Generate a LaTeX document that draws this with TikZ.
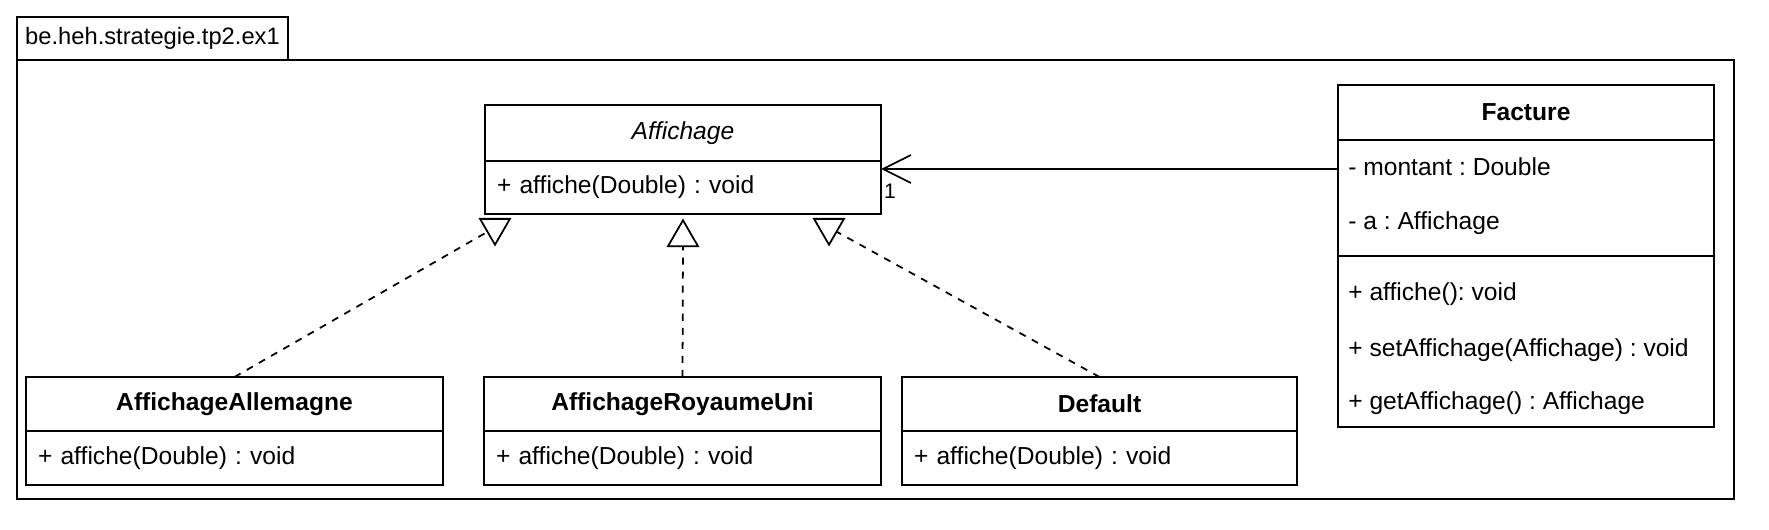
\documentclass[tikz,border=0pt]{standalone}
\usepackage{fontspec}
\setmainfont{Liberation Sans}
\frenchspacing
\usetikzlibrary{arrows.meta,shapes.geometric}

\begin{document}
\begin{tikzpicture}[
        section/.style={draw, line width=1.3pt, outer sep=0pt, anchor=north west, minimum width=#1},
        classhead/.style={section=#1, minimum height=1.08cm, font=\fontsize{14}{17}\selectfont\bfseries},
        classbody/.style={draw, line width=1.3pt, outer sep=0pt, anchor=north west, text width=#1, inner xsep=0.24cm, minimum height=1.08cm, align=left, font=\fontsize{14}{17}\selectfont},
        member/.style={anchor=base west, inner sep=0pt, font=\fontsize{14}{17}\selectfont},
        opentri/.style={draw, line width=1pt, fill=white, regular polygon, regular polygon sides=3, minimum size=0.69cm, inner sep=0pt},
        realize/.style={line width=1pt, dash pattern=on 4pt off 4pt},
        assoc/.style={line width=1pt, -{Straight Barb[length=0.56cm, width=0.56cm, line width=1pt]}}
    ]
                % Background
                \path[use as bounding box, fill=white] (0,0) rectangle (35.38,10.58);

                % Package
                \node[draw, line width=1pt, outer sep=0pt, anchor=north west, minimum width=5.42cm, minimum height=0.86cm, font=\fontsize{13.5}{16}\selectfont] (pkgTab) at (0.34,10.24) {be.heh.strategie.tp2.ex1};
                \node[draw, line width=1pt, outer sep=0pt, anchor=north west, minimum width=34.34cm, minimum height=8.78cm] (pkgBody) at (pkgTab.south west) {};

                % Affichage (abstract)
                \node[classhead=7.92cm, minimum height=1.12cm, font=\fontsize{14}{17}\selectfont\itshape] (affichage) at (9.70,8.48) {Affichage};
                \node[classbody=7.44cm, minimum height=1.06cm] (affichageOps) at (affichage.south west) {+ affiche(Double) : void};

                % Implementations
                \node[classhead=8.34cm] (allemagne) at (0.52,3.04) {AffichageAllemagne};
                \node[classbody=7.86cm] (allemagneOps) at (allemagne.south west) {+ affiche(Double) : void};

                \node[classhead=7.94cm] (royaumeUni) at (9.68,3.04) {AffichageRoyaumeUni};
                \node[classbody=7.46cm] (royaumeUniOps) at (royaumeUni.south west) {+ affiche(Double) : void};

                \node[classhead=7.90cm] (default) at (18.04,3.04) {Default};
                \node[classbody=7.42cm] (defaultOps) at (default.south west) {+ affiche(Double) : void};

                % Facture
                \node[classhead=7.52cm, minimum height=1.10cm] (facture) at (26.76,8.88) {Facture};
                \node[section=7.52cm, minimum height=2.32cm] (factureAttr) at (facture.south west) {};
                \node[section=7.52cm, minimum height=3.42cm] (factureOps) at (factureAttr.south west) {};
                \node[member] (fMontant) at (26.96,7.08) {- montant : Double};
                \node[member] (fA) at (26.96,6.00) {- a : Affichage};
                \node[member] (fAffiche) at (26.96,4.58) {+ affiche(): void};
                \node[member] (fSet) at (26.96,3.46) {+ setAffichage(Affichage) : void};
                \node[member] (fGet) at (26.96,2.40) {+ getAffichage() : Affichage};

                % Association
                \coordinate (link) at (22,7.20);
                \draw[assoc] (factureAttr.west |- link) -- (affichageOps.east |- link);
                \node[font=\fontsize{12}{14}\selectfont] (mult) at (17.80,6.76) {1};

                % Realizations
                \node[opentri, shape border rotate=180] (triAllemagne) at (9.90,6.03) {};
                \node[opentri] (triRoyaumeUni) at (13.66,5.83) {};
                \node[opentri, shape border rotate=180] (triDefault) at (16.58,6.03) {};
                \draw[realize] (allemagne.north) -- (triAllemagne);
                \draw[realize] (royaumeUni.north) -- (triRoyaumeUni);
                \draw[realize] (default.north) -- (triDefault);
            \end{tikzpicture}
\end{document}
